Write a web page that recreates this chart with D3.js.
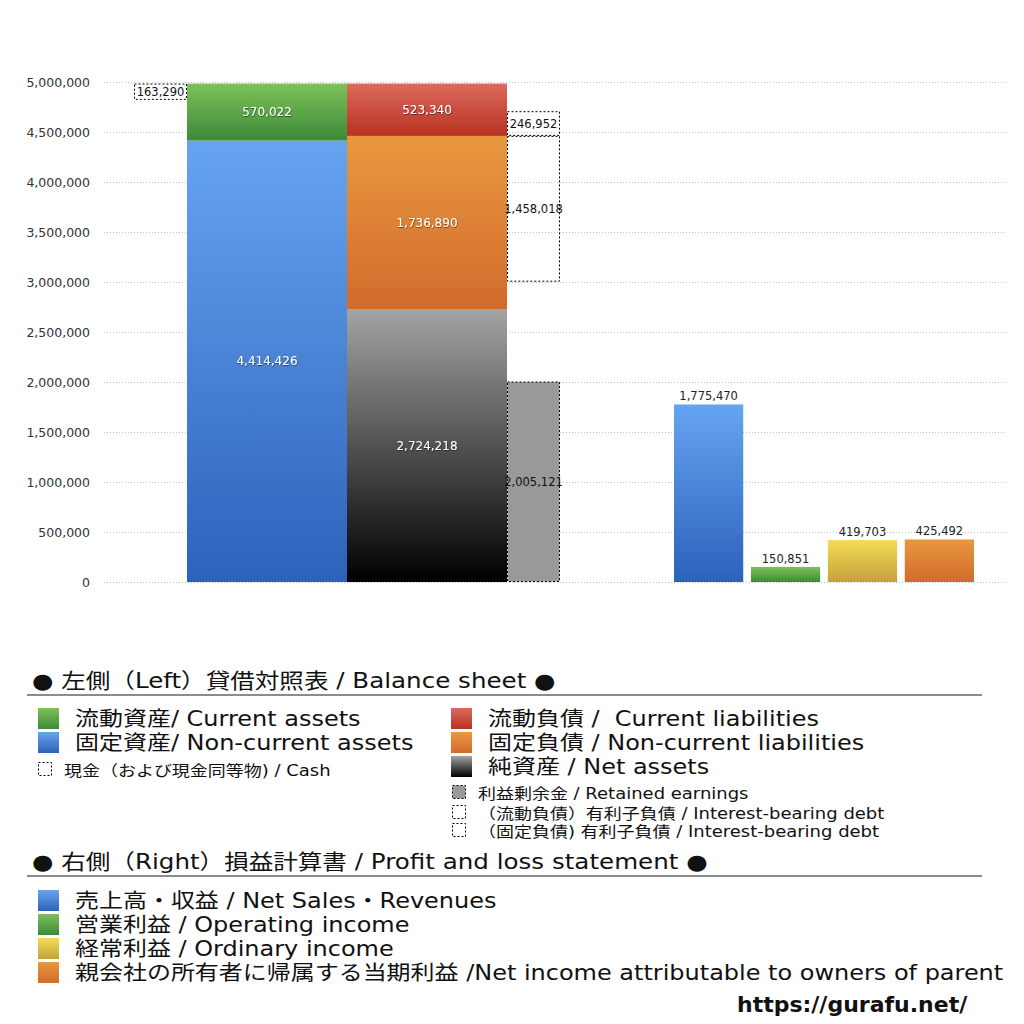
<!DOCTYPE html>
<html>
<head>
<meta charset="utf-8">
<script src="https://cdn.jsdelivr.net/npm/d3@7"></script>
<style>
  body { margin: 0; background: #fff; }
  svg text { font-family: "DejaVu Sans", "Noto Sans CJK JP", sans-serif; white-space: pre; }
</style>
</head>
<body>
<svg id="board" width="1024" height="1024"></svg>
<script>
// balance sheet (left)
var yTicks = [0, 500000, 1000000, 1500000, 2000000, 2500000, 3000000, 3500000, 4000000, 4500000, 5000000];
var assetNames = ["固定資産", "流動資産"];
var assetValues = [4414426, 570022];
var liabNames = ["純資産", "固定負債", "流動負債"];
var liabValues = [2724218, 1736890, 523340];
var cashValue = 163290;
var retainedEarnings = 2005121;
var debtCurrent = 246952;
var debtNonCurrent = 1458018;

// profit and loss (right)
var plNames = ["売上高・収益", "営業利益", "経常利益", "当期利益"];
var plValues = [1775470, 150851, 419703, 425492];

// gradient colours, top -> bottom
var grads = {
  blue: ["#66a4f0", "#2d62bb"],
  green: ["#7dc157", "#3c8a3a"],
  red: ["#da6a5d", "#b93221"],
  orange: ["#e9983f", "#d16b2c"],
  black: ["#a3a3a3", "#000000"],
  yellow: ["#f3dc55", "#c4a23c"]
};
var assetColors = ["blue", "green"];
var liabColors = ["black", "orange", "red"];
var plColors = ["blue", "green", "yellow", "orange"];

var svg = d3.select("#board");
var fmt = d3.format(",");

var defs = svg.append("defs");
Object.keys(grads).forEach(function(k) {
  var g = defs.append("linearGradient").attr("id", "g-" + k)
    .attr("x1", 0).attr("y1", 0).attr("x2", 0).attr("y2", 1);
  g.append("stop").attr("offset", "0%").attr("stop-color", grads[k][0]);
  g.append("stop").attr("offset", "100%").attr("stop-color", grads[k][1]);
});
var shadow = defs.append("filter").attr("id", "shadow");
shadow.append("feDropShadow").attr("dx", 0.5).attr("dy", 0.8).attr("stdDeviation", 0.6)
  .attr("flood-color", "#000").attr("flood-opacity", 0.6);

var y = d3.scaleLinear().domain([0, 5000000]).range([582, 82]);

// grid + axis
var grid = svg.append("g");
grid.selectAll("line").data(yTicks).enter().append("line")
  .attr("x1", 104).attr("x2", 1005)
  .attr("y1", function(d) { return y(d) + 0.5; })
  .attr("y2", function(d) { return y(d) + 0.5; })
  .style("stroke", "#c4c4c4")
  .style("stroke-dasharray", "1,2");

var yAxis = svg.append("g").attr("transform", "translate(96,0)")
  .call(d3.axisLeft(y).tickValues(yTicks).tickFormat(fmt).tickSize(0).tickPadding(6));
yAxis.select(".domain").remove();
yAxis.selectAll("text").style("font-size", "12.5px").style("fill", "#333")
  .style("font-family", "\"DejaVu Sans\", sans-serif");

// left group columns
var xLeft = d3.scaleBand().domain(["assets", "liabilities"]).range([187, 507]);
var sideW = 53;

function stack(values) {
  var acc = 0;
  return values.map(function(v) { var s = acc; acc += v; return { y0: s, y1: acc, v: v }; });
}

function drawStack(col, values, colors) {
  var data = stack(values);
  var g = svg.append("g");
  g.selectAll("rect").data(data).enter().append("rect")
    .attr("x", xLeft(col))
    .attr("width", xLeft.bandwidth())
    .attr("y", function(d) { return y(d.y1); })
    .attr("height", function(d) { return y(d.y0) - y(d.y1); })
    .style("fill", function(d, i) { return "url(#g-" + colors[i] + ")"; });
  g.selectAll("text").data(data).enter().append("text")
    .attr("x", xLeft(col) + xLeft.bandwidth() / 2)
    .attr("y", function(d) { return (y(d.y0) + y(d.y1)) / 2 + 4; })
    .attr("text-anchor", "middle")
    .style("font-size", "12px")
    .style("fill", "#fff")
    .attr("filter", "url(#shadow)")
    .text(function(d) { return fmt(d.v); });
  return data;
}

var assetStack = drawStack("assets", assetValues, assetColors);
var liabStack = drawStack("liabilities", liabValues, liabColors);

var assetTop = assetStack[assetStack.length - 1].y1;
var nonCurTop = liabStack[1].y1;

// dotted side boxes
var boxes = [
  { x: xLeft("assets") - sideW, y0: assetTop - cashValue, y1: assetTop, v: cashValue, fill: "none" },
  { x: xLeft("liabilities") + xLeft.bandwidth(), y0: nonCurTop, y1: nonCurTop + debtCurrent, v: debtCurrent, fill: "none" },
  { x: xLeft("liabilities") + xLeft.bandwidth(), y0: nonCurTop - debtNonCurrent, y1: nonCurTop, v: debtNonCurrent, fill: "none" },
  { x: xLeft("liabilities") + xLeft.bandwidth(), y0: 0, y1: retainedEarnings, v: retainedEarnings, fill: "#999" }
];
var side = svg.append("g");
side.selectAll("rect").data(boxes).enter().append("rect")
  .attr("x", function(d) { return d.x + 0.5; })
  .attr("width", sideW - 1)
  .attr("y", function(d) { return y(d.y1) + 0.5; })
  .attr("height", function(d) { return y(d.y0) - y(d.y1) - 1; })
  .style("fill", function(d) { return d.fill; })
  .style("stroke", "#000")
  .style("stroke-width", 1)
  .style("stroke-dasharray", "2,2");
side.selectAll("text").data(boxes).enter().append("text")
  .attr("x", function(d) { return d.x + sideW / 2; })
  .attr("y", function(d) { return (y(d.y0) + y(d.y1)) / 2 + 4; })
  .attr("text-anchor", "middle")
  .style("font-size", "11.5px")
  .style("fill", "#111")
  .text(function(d) { return fmt(d.v); });

// right group
var xRight = d3.scaleBand().domain(plNames).range([674, 974]).paddingInner(0.1);
var pl = svg.append("g");
pl.selectAll("rect").data(plValues).enter().append("rect")
  .attr("x", function(d, i) { return xRight(plNames[i]); })
  .attr("width", xRight.bandwidth())
  .attr("y", function(d) { return y(d); })
  .attr("height", function(d) { return y(0) - y(d); })
  .style("fill", function(d, i) { return "url(#g-" + plColors[i] + ")"; });
pl.selectAll("text").data(plValues).enter().append("text")
  .attr("x", function(d, i) { return xRight(plNames[i]) + xRight.bandwidth() / 2; })
  .attr("y", function(d) { return y(d) - 4; })
  .attr("text-anchor", "middle")
  .style("font-size", "11.5px")
  .style("fill", "#222")
  .text(function(d) { return fmt(d); });

// legends - the reference font is wider, so stretch the text a little
var leg = svg.append("g");

function label(x, by, size, stretch, txt) {
  return leg.append("text")
    .attr("transform", "translate(" + x + "," + by + ") scale(" + stretch + ",1)")
    .style("font-size", size + "px").style("fill", "#111").text(txt);
}

function heading(txt, by) {
  label(32, by, 21, 1.17, txt);
  leg.append("line").attr("x1", 27).attr("x2", 982).attr("y1", by + 7).attr("y2", by + 7)
    .style("stroke", "#666").style("stroke-width", 1.5);
}

function bigItem(x, by, color, txt) {
  leg.append("rect").attr("x", x).attr("y", by - 18).attr("width", 21).attr("height", 21)
    .style("fill", "url(#g-" + color + ")");
  label(x + 37, by, 20.5, 1.17, txt);
}

function smallItem(x, by, fill, txt) {
  leg.append("rect").attr("x", x + 0.5).attr("y", by - 13.5).attr("width", 13).attr("height", 13)
    .style("fill", fill).style("stroke", "#000").style("stroke-dasharray", "2,2");
  label(x + 26, by, 15, 1.2, txt);
}

heading("● 左側（Left）貸借対照表 / Balance sheet ●", 688);
bigItem(38, 726, "green", "流動資産/ Current assets");
bigItem(38, 750, "blue", "固定資産/ Non-current assets");
smallItem(38, 776, "none", "現金（および現金同等物) / Cash");
bigItem(451, 726, "red", "流動負債 /  Current liabilities");
bigItem(451, 750, "orange", "固定負債 / Non-current liabilities");
bigItem(451, 774, "black", "純資産 / Net assets");
smallItem(452, 799, "#999", "利益剰余金 / Retained earnings");
smallItem(452, 819, "none", "（流動負債）有利子負債 / Interest-bearing debt");
smallItem(452, 837, "none", "（固定負債) 有利子負債 / Interest-bearing debt");

heading("● 右側（Right）損益計算書 / Profit and loss statement ●", 869);
bigItem(38, 908, "blue", "売上高・収益 / Net Sales・Revenues");
bigItem(38, 932, "green", "営業利益 / Operating income");
bigItem(38, 956, "yellow", "経常利益 / Ordinary income");
bigItem(38, 980, "orange", "親会社の所有者に帰属する当期利益 /Net income attributable to owners of parent");

svg.append("text").attr("x", 737).attr("y", 1012)
  .style("font-size", "22px").style("font-weight", "bold").style("fill", "#111")
  .text("https://gurafu.net/");
</script>
</body>
</html>
